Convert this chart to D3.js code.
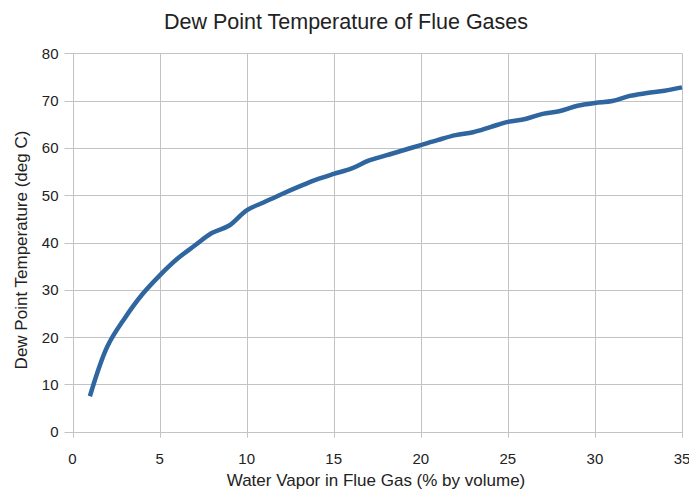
<!DOCTYPE html>
<html><head><meta charset="utf-8">
<script src="https://cdn.jsdelivr.net/npm/d3@7"></script>
<style>body{margin:0;background:#fff;} text{font-family:"Liberation Sans",Arial,sans-serif;}</style>
</head><body>
<svg id="c" width="689" height="492"></svg>
<script>
const waterVapor = [1,2,3,4,5,6,7,8,9,10,11,12,13,14,15,16,17,18,19,20,21,22,23,24,25,26,27,28,29,30,31,32,33,34,35];
const dewPoint = [7.5,18,24,29,33,36.5,39.3,42,43.6,46.8,48.5,50.2,51.8,53.3,54.5,55.6,57.3,58.4,59.5,60.6,61.7,62.7,63.3,64.4,65.5,66.1,67.2,67.8,68.9,69.5,69.9,71.0,71.6,72.1,72.8];
const xTicks = [0,5,10,15,20,25,30,35];
const yTicks = [0,10,20,30,40,50,60,70,80];

const svg = d3.select("#c");
const L = 72.5, R = 682, T = 53.3, B = 431.7;
const x = d3.scaleLinear().domain([0,35]).range([L,R]);
const y = d3.scaleLinear().domain([0,80]).range([B,T]);
const grid = "#c3c3c3";

svg.append("g").selectAll("line").data(yTicks).join("line")
  .attr("x1", L-8).attr("x2", R).attr("y1", d=>Math.round(y(d))+0.5).attr("y2", d=>Math.round(y(d))+0.5)
  .attr("stroke", grid).attr("stroke-width",1);
svg.append("g").selectAll("line").data(xTicks).join("line")
  .attr("y1", T).attr("y2", B+6).attr("x1", d=>Math.round(x(d))+0.5).attr("x2", d=>Math.round(x(d))+0.5)
  .attr("stroke", grid).attr("stroke-width",1);

svg.append("g").selectAll("text").data(yTicks).join("text")
  .attr("x", 58.5).attr("y", d=>y(d)+5.5).attr("text-anchor","end")
  .attr("font-size",15).attr("fill","#222").text(d=>d);
svg.append("g").selectAll("text").data(xTicks).join("text")
  .attr("x", d=>x(d)).attr("y", 463.5).attr("text-anchor","middle")
  .attr("font-size",15).attr("fill","#222").text(d=>d);

svg.append("text").attr("x",346).attr("y",29).attr("text-anchor","middle")
  .attr("font-size",21.5).attr("fill","#222").text("Dew Point Temperature of Flue Gases");
svg.append("text").attr("x",376).attr("y",486).attr("text-anchor","middle")
  .attr("font-size",17).attr("fill","#222").text("Water Vapor in Flue Gas (% by volume)");
svg.append("text").attr("transform","translate(27,250) rotate(-90)").attr("text-anchor","middle")
  .attr("font-size",17).attr("fill","#222").text("Dew Point Temperature (deg C)");

const line = d3.line().x((d,i)=>x(waterVapor[i])).y(d=>y(d)).curve(d3.curveCatmullRom.alpha(0.5));
svg.append("path").datum(dewPoint).attr("d", line).attr("fill","none")
  .attr("stroke","#2f66a0").attr("stroke-width",4.5).attr("stroke-linejoin","round");
</script>
</body></html>
